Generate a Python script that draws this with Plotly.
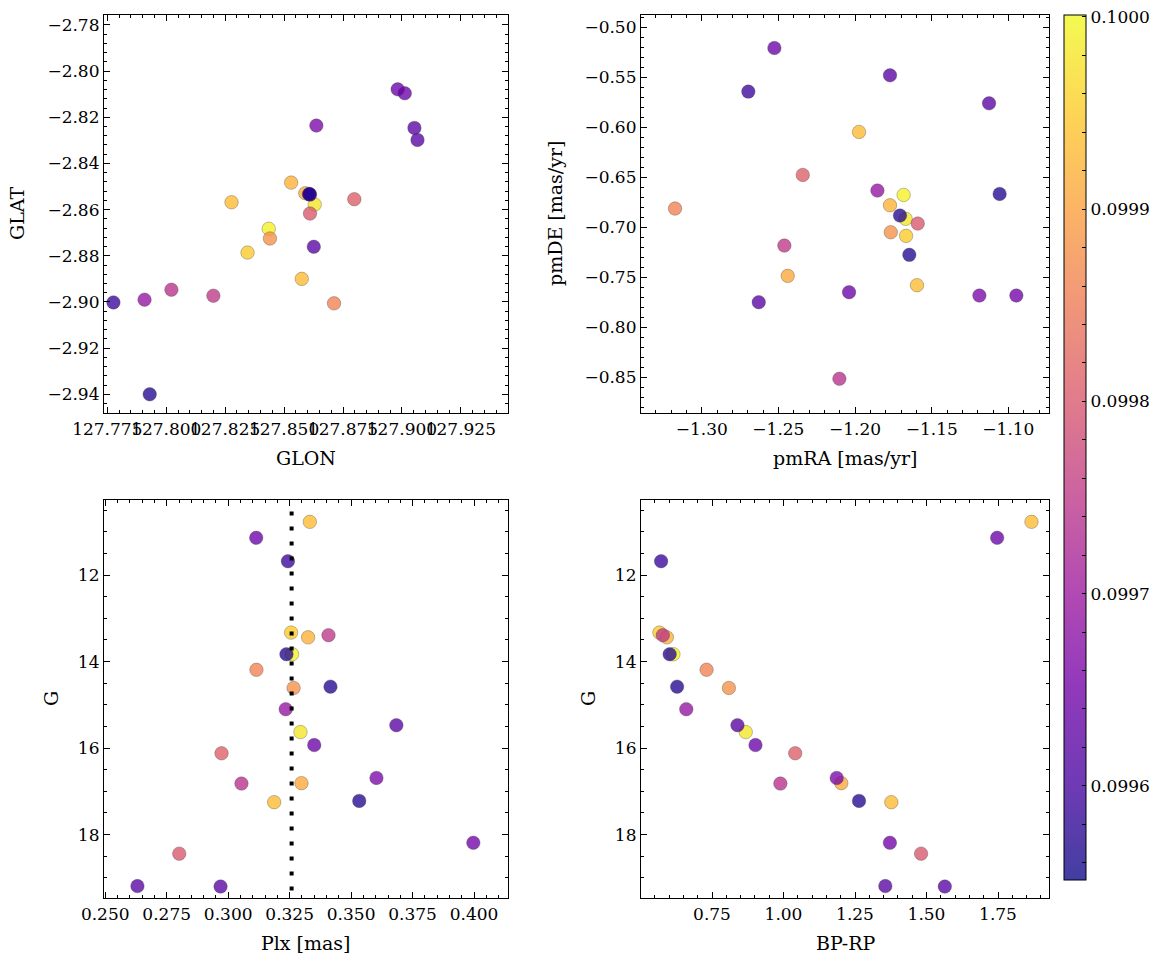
import numpy as np
import plotly.graph_objects as go
from plotly.colors import sequential, hex_to_rgb

# ---- data (one entry per star) ----
G = [10.77, 11.14, 11.68, 13.33, 13.44, 13.39, 13.83, 13.83, 14.19, 14.61, 14.58, 15.10, 15.47,
     15.63, 15.93, 16.12, 16.82, 16.81, 16.69, 17.25, 17.22, 18.19, 18.44, 19.19, 19.20]
plx = [0.3332, 0.3114, 0.3243, 0.3256, 0.3325, 0.3408, 0.3237, 0.3260, 0.3115, 0.3266, 0.3416, 0.3234, 0.3684,
       0.3294, 0.3350, 0.2973, 0.3054, 0.3298, 0.3603, 0.3187, 0.3533, 0.3997, 0.2801, 0.2631, 0.2969]
bprp = [1.867, 1.747, 0.572, 0.566, 0.592, 0.578, 0.602, 0.615, 0.731, 0.809, 0.628, 0.660, 0.839,
        0.868, 0.902, 1.041, 0.989, 1.202, 1.186, 1.377, 1.264, 1.372, 1.481, 1.356, 1.564]
pmra = [-1.1974, -1.2526, -1.2696, -1.1667, -1.1772, -1.2461, -1.1707, -1.1683, -1.3174, -1.1767, -1.1057, -1.1854, -1.1772,
        -1.1670, -1.2039, -1.2341, -1.2102, -1.2439, -1.1189, -1.1596, -1.1646, -1.0948, -1.1591, -1.1126, -1.2628]
pmde = [-0.6046, -0.5207, -0.5643, -0.7085, -0.6779, -0.7182, -0.6882, -0.6676, -0.6812, -0.7049, -0.6666, -0.6632, -0.5480,
        -0.6915, -0.7648, -0.6476, -0.8514, -0.7485, -0.7682, -0.7578, -0.7275, -0.7682, -0.6962, -0.5760, -0.7748]
glon = [127.8277, 127.8982, 127.7776, 127.8345, 127.8530, 127.8200, 127.8608, 127.8435, 127.8712, 127.8440, 127.7930, 127.7908, 127.9053,
        127.8630, 127.9012, 127.8798, 127.8022, 127.8590, 127.8637, 127.8575, 127.8606, 127.8610, 127.8610, 127.9066, 127.8626]
glat = [-2.8568, -2.8079, -2.9002, -2.8786, -2.8483, -2.8973, -2.8532, -2.8683, -2.9006, -2.8725, -2.9400, -2.8990, -2.8246,
        -2.8578, -2.8096, -2.8555, -2.8947, -2.8529, -2.8236, -2.8900, -2.8533, -2.8535, -2.8617, -2.8298, -2.8761]
prob = [0.09993, 0.09964, 0.09959, 0.09995, 0.09992, 0.09975, 0.09957, 0.09999, 0.09986, 0.09988, 0.09957, 0.09969, 0.09962,
        0.09998, 0.09964, 0.09981, 0.09974, 0.09991, 0.09966, 0.09993, 0.09957, 0.09965, 0.09980, 0.09962, 0.09962]
plx_ref = 0.3258
plx_line_G = [10.53, 19.6]

cmin, cmax = 0.099551, 0.100001
cbar_major = [0.0996, 0.0997, 0.0998, 0.0999, 0.1000]

# draw higher values first so low values lie on top
order = np.argsort(prob)[::-1]
def s(a):
    return [a[i] for i in order]

W, H = 1166, 965
FONT = "DejaVu Serif"
TICK = 17
TITLE = 19
ALPHA = 0.78

# plasma colorscale with transparency (as matplotlib shows alpha on markers and colorbar)
pl = sequential.Plasma
cscale = []
for i, hx in enumerate(pl):
    r, g, b = hex_to_rgb(hx)
    cscale.append([i / (len(pl) - 1), f"rgba({r},{g},{b},{ALPHA})"])

fig = go.Figure()
marker = dict(size=13.5, color=s(prob), coloraxis="coloraxis",
              line=dict(width=0.6, color="rgba(60,60,60,0.55)"))
fig.add_trace(go.Scatter(x=s(glon), y=s(glat), mode="markers", marker=marker, xaxis="x", yaxis="y", showlegend=False))
fig.add_trace(go.Scatter(x=s(pmra), y=s(pmde), mode="markers", marker=marker, xaxis="x2", yaxis="y2", showlegend=False))
fig.add_trace(go.Scatter(x=s(plx), y=s(G), mode="markers", marker=marker, xaxis="x3", yaxis="y3", showlegend=False))
fig.add_trace(go.Scatter(x=[plx_ref, plx_ref], y=plx_line_G, mode="lines",
                         line=dict(color="black", width=4, dash="4px,11px"),
                         xaxis="x3", yaxis="y3", showlegend=False))
fig.add_trace(go.Scatter(x=s(bprp), y=s(G), mode="markers", marker=marker, xaxis="x4", yaxis="y4", showlegend=False))

def ax(domain, rng, dtick, tick0, minor_dtick, fmt, anchor):
    return dict(domain=domain, range=rng, dtick=dtick, tick0=tick0, tickformat=fmt,
                showline=True, linecolor="black", linewidth=1.2, mirror="allticks",
                ticks="inside", ticklen=6, tickwidth=1, tickcolor="black",
                minor=dict(ticks="inside", ticklen=3, tickwidth=0.8, dtick=minor_dtick,
                           tickcolor="black", showgrid=False),
                showgrid=False, zeroline=False, tickangle=0, anchor=anchor, automargin=False,
                tickfont=dict(family=FONT, size=TICK, color="black"))

xl = [104 / W, 508 / W]
xr = [641 / W, 1049 / W]
yt = [1 - 413 / H, 1 - 15 / H]
yb = [1 - 898 / H, 1 - 500 / H]

cb_vals = [round(v, 5) for v in np.arange(0.09956, 0.100001, 0.00002)]
cb_text = [("%.4f" % v) if any(abs(v - m) < 1e-9 for m in cbar_major) else "" for v in cb_vals]

titles = [
    ("GLON", 306, 458, 0), ("pmRA [mas/yr]", 845, 458, 0),
    ("Plx [mas]", 306, 943, 0), ("BP-RP", 845, 943, 0),
    ("GLAT", 17, 214, -90), ("pmDE [mas/yr]", 555, 214, -90),
    ("G", 51, 699, -90), ("G", 588, 699, -90),
]
annotations = [dict(text=t, x=px / W, y=1 - py / H, xref="paper", yref="paper",
                    xanchor="center", yanchor="middle", showarrow=False, textangle=ang,
                    font=dict(family=FONT, size=TITLE, color="black"))
               for t, px, py, ang in titles]

fig.update_layout(
    width=W, height=H, margin=dict(l=0, r=0, t=0, b=0, autoexpand=False),
    paper_bgcolor="white", plot_bgcolor="white",
    font=dict(family=FONT, color="black"),
    xaxis=ax(xl, [127.7736, 127.945], 0.025, 127.775, 0.005, ".3f", "y"),
    yaxis=ax(yt, [-2.9481, -2.7757], 0.02, -2.78, 0.004, ".2f", "x"),
    xaxis2=ax(xr, [-1.3396, -1.0735], 0.05, -1.3, 0.01, ".2f", "y2"),
    yaxis2=ax(yt, [-0.8856, -0.4877], 0.05, -0.5, 0.01, ".2f", "x2"),
    xaxis3=ax(xl, [0.2495, 0.4138], 0.025, 0.25, 0.005, ".3f", "y3"),
    yaxis3=ax(yb, [19.465, 10.265], 2, 12, 0.5, "d", "x3"),
    xaxis4=ax(xr, [0.5017, 1.9283], 0.25, 0.75, 0.05, ".2f", "y4"),
    yaxis4=ax(yb, [19.465, 10.265], 2, 12, 0.5, "d", "x4"),
    annotations=annotations,
    coloraxis=dict(
        colorscale=cscale, cmin=cmin, cmax=cmax,
        colorbar=dict(
            x=1064 / W, xanchor="left", y=1 - 15 / H, yanchor="top",
            len=865 / H, lenmode="fraction", thickness=22, thicknessmode="pixels",
            outlinewidth=1, outlinecolor="black",
            tickvals=cb_vals, ticktext=cb_text,
            ticks="inside", ticklen=4, tickcolor="black",
            tickfont=dict(family=FONT, size=TICK, color="black"),
            xpad=0, ypad=0,
        ),
    ),
)

fig.write_html("out.html")
